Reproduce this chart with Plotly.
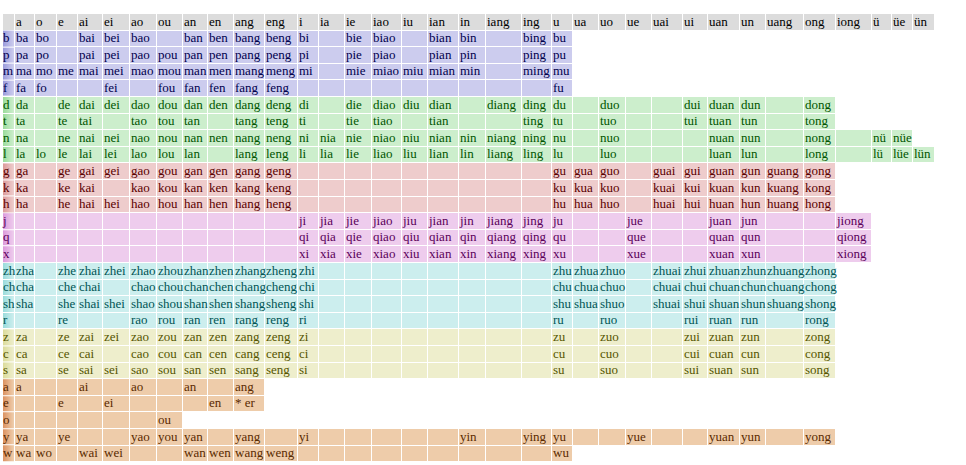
import plotly.graph_objects as go
import numpy as np

# ---------------- data ----------------
finals = ["a", "o", "e", "ai", "ei", "ao", "ou", "an", "en", "ang", "eng",
          "i", "ia", "ie", "iao", "iu", "ian", "in", "iang", "ing",
          "u", "ua", "uo", "ue", "uai", "ui", "uan", "un", "uang", "ong", "iong",
          "ü", "üe", "ün"]

initials = ["b", "p", "m", "f", "d", "t", "n", "l", "g", "k", "h", "j", "q", "x",
            "zh", "ch", "sh", "r", "z", "c", "s", "a", "e", "o", "y", "w"]

# "-" = empty cell; the number of tokens is how far the coloured row extends
rows_text = [
    "ba bo - bai bei bao - ban ben bang beng bi - bie biao - bian bin - bing bu",
    "pa po - pai pei pao pou pan pen pang peng pi - pie piao - pian pin - ping pu",
    "ma mo me mai mei mao mou man men mang meng mi - mie miao miu mian min - ming mu",
    "fa fo - - fei - fou fan fen fang feng - - - - - - - - - fu",
    "da - de dai dei dao dou dan den dang deng di - die diao diu dian - diang ding du - duo - - dui duan dun - dong",
    "ta - te tai - tao tou tan - tang teng ti - tie tiao - tian - - ting tu - tuo - - tui tuan tun - tong",
    "na - ne nai nei nao nou nan nen nang neng ni nia nie niao niu nian nin niang ning nu - nuo - - - nuan nun - nong - nü nüe",
    "la lo le lai lei lao lou lan - lang leng li lia lie liao liu lian lin liang ling lu - luo - - - luan lun - long - lü lüe lün",
    "ga - ge gai gei gao gou gan gen gang geng - - - - - - - - - gu gua guo - guai gui guan gun guang gong",
    "ka - ke kai - kao kou kan ken kang keng - - - - - - - - - ku kua kuo - kuai kui kuan kun kuang kong",
    "ha - he hai hei hao hou han hen hang heng - - - - - - - - - hu hua huo - huai hui huan hun huang hong",
    "- - - - - - - - - - - ji jia jie jiao jiu jian jin jiang jing ju - - jue - - juan jun - - jiong",
    "- - - - - - - - - - - qi qia qie qiao qiu qian qin qiang qing qu - - que - - quan qun - - qiong",
    "- - - - - - - - - - - xi xia xie xiao xiu xian xin xiang xing xu - - xue - - xuan xun - - xiong",
    "zha - zhe zhai zhei zhao zhou zhan zhen zhang zheng zhi - - - - - - - - zhu zhua zhuo - zhuai zhui zhuan zhun zhuang zhong",
    "cha - che chai - chao chou chan chen chang cheng chi - - - - - - - - chu chua chuo - chuai chui chuan chun chuang chong",
    "sha - she shai shei shao shou shan shen shang sheng shi - - - - - - - - shu shua shuo - shuai shui shuan shun shuang shong",
    "- - re - - rao rou ran ren rang reng ri - - - - - - - - ru - ruo - - rui ruan run - rong",
    "za - ze zai zei zao zou zan zen zang zeng zi - - - - - - - - zu - zuo - - zui zuan zun - zong",
    "ca - ce cai - cao cou can cen cang ceng ci - - - - - - - - cu - cuo - - cui cuan cun - cong",
    "sa - se sai sei sao sou san sen sang seng si - - - - - - - - su - suo - - sui suan sun - song",
    "a - - ai - ao - an - ang",
    "- - e - ei - - - en *_er",
    "- - - - - - ou",
    "ya - ye - - yao you yan - yang - yi - - - - - yin - ying yu - - yue - - yuan yun - yong",
    "wa wo - wai wei - - wan wen wang weng - - - - - - - - - wu",
]

# colour group of each initial row
row_group = [0, 0, 0, 0, 1, 1, 1, 1, 2, 2, 2, 3, 3, 3, 4, 4, 4, 4, 5, 5, 5, 6, 6, 6, 6, 6]

# ---------------- styles / layout ----------------
cell_fill = ["#ccccee", "#cceecc", "#eecccc", "#eecced", "#cceeee", "#eeeecc", "#eeccaa"]
label_dark = ["#9c9cdc", "#9cdc9c", "#dc9c9c", "#dc9cdc", "#9cdcdc", "#dcdc9c", "#dc9464"]
text_col = ["#00004d", "#005500", "#5a0000", "#5a005a", "#005555", "#555500", "#5a2a00"]
header_fill = "#dcdcdc"

col_edges = [3, 15, 35, 57, 78, 103, 130, 157, 183, 208, 234, 265, 298, 319, 345, 372,
             402, 428, 459, 486, 522, 552, 573, 599, 626, 652, 683, 708, 740, 766, 804,
             836, 872, 892, 913, 935]
top = 14.0
row_h = 16.6
n_rows = len(initials) + 1
row_edges = [top + i * row_h for i in range(n_rows + 1)]
FONT = "Liberation Serif, Times New Roman, serif"
FS = 13

cells = [[t.replace("_", " ") if t != "-" else "" for t in r.split()] for r in rows_text]

# ---------------- main heatmap (cell backgrounds) ----------------
n_cols = len(finals) + 1
z = np.full((n_rows, n_cols), np.nan)
z[0, :] = 7  # header row
for r, toks in enumerate(cells):
    g = row_group[r]
    for c in range(len(toks)):
        z[r + 1, c + 1] = g

palette = cell_fill + [header_fill]
cs = []
for i, col in enumerate(palette):
    cs.append([i / len(palette), col])
    cs.append([(i + 1) / len(palette), col])

fig = go.Figure()
fig.add_trace(go.Heatmap(
    x=col_edges, y=row_edges, z=z, zmin=-0.5, zmax=7.5,
    colorscale=cs, showscale=False, xgap=1, ygap=1, hoverinfo="skip"))

# label column gradients, one heatmap per colour group
sub_x = list(np.linspace(col_edges[0], col_edges[1] - 1, 12))
for g in range(len(cell_fill)):
    rs = [r for r in range(len(initials)) if row_group[r] == g]
    ye = [row_edges[r + 1] for r in rs] + [row_edges[rs[-1] + 2]]
    zz = [[i / 10 for i in range(11)] for _ in rs]
    fig.add_trace(go.Heatmap(
        x=sub_x, y=ye, z=zz, zmin=0, zmax=1,
        colorscale=[[0, label_dark[g]], [1, cell_fill[g]]],
        showscale=False, ygap=1, hoverinfo="skip"))

# ---------------- text ----------------
def centre(r):
    return (row_edges[r] + row_edges[r + 1]) / 2

# header
fig.add_trace(go.Scatter(
    x=[col_edges[c + 1] + 1 for c in range(len(finals))],
    y=[centre(0)] * len(finals), text=finals, mode="text",
    textposition="middle right", textfont=dict(family=FONT, size=FS, color="#000000"),
    hoverinfo="skip", showlegend=False))

for g in range(len(cell_fill)):
    xs, ys, ts = [], [], []
    for r, toks in enumerate(cells):
        if row_group[r] != g:
            continue
        xs.append(col_edges[0] + 0)
        ys.append(centre(r + 1))
        ts.append(initials[r])
        for c, t in enumerate(toks):
            if t:
                xs.append(col_edges[c + 1] + 1)
                ys.append(centre(r + 1))
                ts.append(t)
    fig.add_trace(go.Scatter(
        x=xs, y=ys, text=ts, mode="text", textposition="middle right",
        textfont=dict(family=FONT, size=FS, color=text_col[g]),
        hoverinfo="skip", showlegend=False))

W, H = 966, 465
fig.update_layout(
    width=W, height=H, margin=dict(l=0, r=0, t=0, b=0),
    paper_bgcolor="white", plot_bgcolor="white", showlegend=False,
    xaxis=dict(range=[0, W], visible=False, fixedrange=True),
    yaxis=dict(range=[H, 0], visible=False, fixedrange=True),
)
fig.write_html(
    "out.html",
    config={"displayModeBar": False, "staticPlot": True},
    post_script="document.body.style.margin='0px';document.body.style.overflow='hidden';",
)
